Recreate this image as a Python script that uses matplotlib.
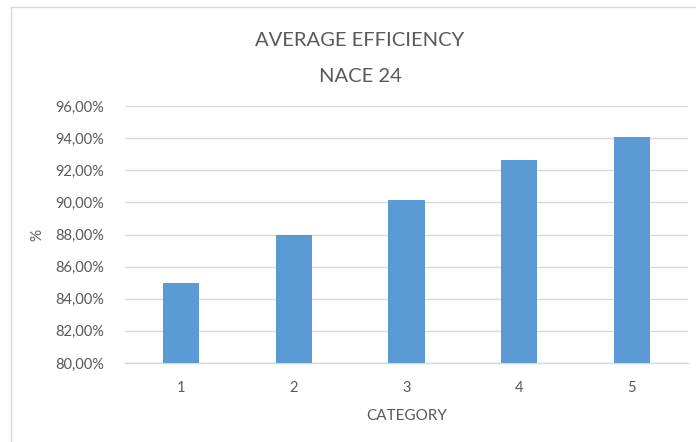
import matplotlib
matplotlib.use('Agg')
import matplotlib.pyplot as plt
from matplotlib.ticker import FuncFormatter
from matplotlib.lines import Line2D

# data
categories = ['1', '2', '3', '4', '5']
efficiency = [84.95, 87.94, 90.15, 92.63, 94.08]
yticks = [80, 82, 84, 86, 88, 90, 92, 94, 96]

text_col = '#595959'
bar_col = '#5B9BD5'
grid_col = '#D9D9D9'

plt.rcParams['font.family'] = ['Lato', 'DejaVu Sans']

fig = plt.figure(figsize=(6.96, 4.42), dpi=100)
ax = fig.add_axes([125 / 696, 1 - 363 / 442, (688 - 125) / 696, (363 - 106) / 442])

x = list(range(len(categories)))
ax.bar(x, efficiency, width=0.32, color=bar_col, zorder=3)

ax.set_xlim(-0.5, len(categories) - 0.5)
ax.set_ylim(80, 96)
ax.set_yticks(yticks)
ax.yaxis.set_major_formatter(FuncFormatter(lambda v, p: f'{v:.2f}'.replace('.', ',') + '%'))
ax.set_xticks(x)
ax.set_xticklabels(categories)

ax.grid(axis='y', color=grid_col, linewidth=1, zorder=0)
for s in ['top', 'right', 'left']:
    ax.spines[s].set_visible(False)
ax.spines['bottom'].set_color(grid_col)
ax.spines['bottom'].set_linewidth(1)
ax.tick_params(axis='both', length=0, colors=text_col, labelsize=10.5)
ax.tick_params(axis='y', pad=15)
ax.tick_params(axis='x', pad=13)

ax.set_ylabel('%', color=text_col, fontsize=11, labelpad=8)
ax.set_xlabel('CATEGORY', color=text_col, fontsize=11, labelpad=10)

fig.text(360 / 696, 1 - 40.5 / 442, 'AVERAGE EFFICIENCY', ha='center', va='center',
         fontsize=14.5, color=text_col)
fig.text(360 / 696, 1 - 77 / 442, 'NACE 24', ha='center', va='center',
         fontsize=14.5, color=text_col)

# outer chart border (clipped at right and bottom)
fig.add_artist(Line2D([11 / 696, 11 / 696], [0, 1 - 7 / 442], color=grid_col, linewidth=1))
fig.add_artist(Line2D([11 / 696, 1], [1 - 7 / 442, 1 - 7 / 442], color=grid_col, linewidth=1))

plt.savefig('out.png', dpi=100)
